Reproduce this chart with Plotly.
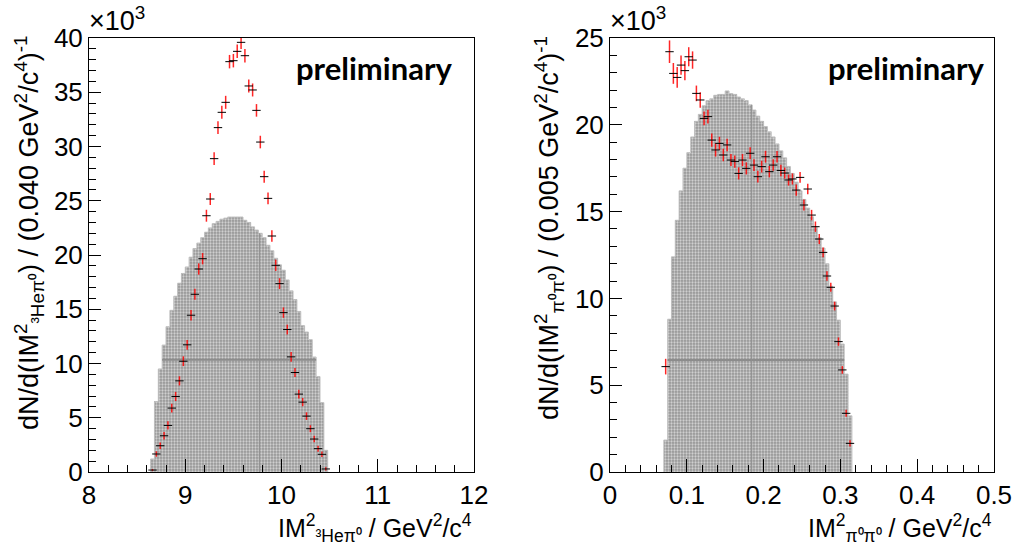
import plotly.graph_objects as go

# ---------------- data (values in units of 10^3) ----------------
# Left panel: IM^2(3He pi0), bin width 0.040
he_hist_left_edge = 8.64
he_hist_width = 0.04
he_hist = [1.2, 6.5, 9.5, 11.7, 13.4, 14.9, 16.2, 17.4, 18.3, 18.9,
           19.8, 20.6, 21.1, 21.6, 22.1, 22.5, 22.9, 23.1, 23.3, 23.4,
           23.5, 23.5, 23.5, 23.5, 23.2, 23.0, 22.6, 22.3, 22.0, 21.6,
           20.9, 20.4, 19.7, 19.1, 18.6, 17.7, 16.7, 15.9, 14.8, 13.5,
           12.9, 12.2, 10.6, 8.8, 6.4, 2.0]
he_x = [8.66, 8.70, 8.74, 8.78, 8.82, 8.86, 8.90, 8.94, 8.98, 9.02,
        9.06, 9.10, 9.14, 9.18, 9.22, 9.26, 9.30, 9.34, 9.38, 9.42,
        9.46, 9.50, 9.54, 9.58, 9.62, 9.66, 9.70, 9.74, 9.78, 9.82,
        9.86, 9.90, 9.94, 9.98, 10.02, 10.06, 10.10, 10.14, 10.18, 10.22,
        10.26, 10.30, 10.34, 10.38, 10.42, 10.46]
he_y = [0.18, 1.66, 2.42, 3.34, 4.29, 5.89, 6.96, 8.40, 10.21, 11.72,
        14.45, 16.38, 18.71, 19.66, 23.62, 25.16, 28.88, 31.74, 33.15, 34.07,
        37.82, 37.91, 38.77, 39.60, 38.37, 35.58, 35.21, 33.33, 30.41, 27.22,
        25.22, 21.75, 19.05, 17.36, 14.69, 13.13, 10.61, 9.17, 7.18, 6.44,
        5.15, 3.99, 3.04, 2.15, 1.63, 0.28]
he_err = [0.10, 0.25, 0.30, 0.35, 0.38, 0.40, 0.42, 0.42, 0.45, 0.45,
          0.48, 0.50, 0.52, 0.52, 0.55, 0.55, 0.58, 0.58, 0.60, 0.60,
          0.62, 0.62, 0.62, 0.62, 0.62, 0.60, 0.60, 0.58, 0.58, 0.55,
          0.55, 0.52, 0.52, 0.50, 0.48, 0.45, 0.45, 0.42, 0.40, 0.38,
          0.35, 0.32, 0.30, 0.28, 0.25, 0.15]
he_lines_h = [10.35]
he_lines_v = [9.77]

# Right panel: IM^2(pi0 pi0), bin width 0.005
pp_hist_left_edge = 0.070
pp_hist_width = 0.005
pp_hist = [1.84, 8.8, 12.4, 14.5, 16.2, 17.5, 18.4, 19.3, 20.2, 20.6,
           21.1, 21.4, 21.5, 21.7, 21.75, 21.75, 21.95, 21.8, 21.75, 21.6,
           21.5, 21.4, 21.15, 20.85, 20.5, 20.2, 19.9, 19.6, 19.3, 18.9,
           18.5, 18.1, 17.6, 17.2, 16.7, 16.2, 15.7, 15.2, 14.7, 14.1,
           13.5, 12.9, 12.0, 10.7, 9.8, 8.75, 7.37, 5.64, 3.24]
pp_x = [0.0725, 0.0775, 0.0825, 0.0875, 0.0925, 0.0975, 0.1025, 0.1075, 0.1125, 0.1175,
        0.1225, 0.1275, 0.1325, 0.1375, 0.1425, 0.1475, 0.1525, 0.1575, 0.1625, 0.1675,
        0.1725, 0.1775, 0.1825, 0.1875, 0.1925, 0.1975, 0.2025, 0.2075, 0.2125, 0.2175,
        0.2225, 0.2275, 0.2325, 0.2375, 0.2425, 0.2475, 0.2525, 0.2575, 0.2625, 0.2675,
        0.2725, 0.2775, 0.2825, 0.2875, 0.2925, 0.2975, 0.3025, 0.3075, 0.3125]
pp_y = [6.07, 24.21, 22.96, 22.73, 23.44, 23.12, 23.92, 23.73, 21.81, 21.43,
        20.37, 20.47, 19.12, 18.55, 18.93, 18.26, 18.84, 17.97, 17.88, 17.20,
        17.97, 17.49, 18.36, 17.68, 17.01, 17.59, 18.16, 17.30, 17.68, 18.16,
        17.37, 17.22, 16.82, 16.88, 16.24, 16.97, 15.38, 16.30, 14.80, 14.13,
        13.42, 12.65, 11.29, 10.64, 9.56, 7.51, 5.88, 3.38, 1.65]
pp_err = [0.45, 0.65, 0.60, 0.60, 0.55, 0.55, 0.55, 0.50, 0.45, 0.45,
          0.40, 0.40, 0.38, 0.38, 0.38, 0.36, 0.36, 0.35, 0.35, 0.35,
          0.35, 0.35, 0.35, 0.34, 0.34, 0.34, 0.34, 0.33, 0.33, 0.33,
          0.33, 0.32, 0.32, 0.32, 0.32, 0.31, 0.31, 0.30, 0.30, 0.30,
          0.29, 0.28, 0.27, 0.26, 0.25, 0.24, 0.22, 0.20, 0.18]
pp_lines_h = [6.45]
pp_lines_v = [0.1845]

# ---------------- style ----------------
W, H = 1016, 554
FONT = "Liberation Sans, Arial, sans-serif"
HIST_BG = "#969696"
HIST_FG = "#cfcfcf"
OUTLINE = "#c0c0c0"

def px_x(p):
    return p / W

def px_y(p):
    return 1 - p / H

fig = go.Figure()

def add_panel(xa, ya, left_edge, width, hist, xs, ys, errs, lines_h, lines_v):
    n = len(hist)
    edges = [left_edge + width * i for i in range(n + 1)]
    centers = [left_edge + width * (i + 0.5) for i in range(n)]
    fig.add_trace(go.Bar(
        x=centers, y=hist, width=[width] * n, xaxis=xa, yaxis=ya,
        marker=dict(color=HIST_BG, line=dict(width=0),
                    pattern=dict(shape=".", fgcolor=HIST_FG, bgcolor=HIST_BG,
                                 size=3, solidity=0.45)),
        showlegend=False, hoverinfo="skip"))
    ox = [edges[0]] + edges[:n] + [edges[n]]
    oy = [0] + list(hist) + [0]
    fig.add_trace(go.Scatter(x=ox, y=oy, mode="lines", line=dict(shape="hv", color=OUTLINE, width=1),
                             xaxis=xa, yaxis=ya, showlegend=False, hoverinfo="skip"))
    for lv in lines_h:
        idx = [i for i, v in enumerate(hist) if v >= lv]
        fig.add_trace(go.Scatter(x=[edges[idx[0]], edges[idx[-1] + 1]], y=[lv, lv], mode="lines",
                                 line=dict(color="#8c8c8c", width=2), xaxis=xa, yaxis=ya,
                                 showlegend=False, hoverinfo="skip"))
    for xv in lines_v:
        i = int((xv - left_edge) / width)
        fig.add_trace(go.Scatter(x=[xv, xv], y=[0, hist[i]], mode="lines",
                                 line=dict(color="#8f8f8f", width=1), xaxis=xa, yaxis=ya,
                                 showlegend=False, hoverinfo="skip"))
    fig.add_trace(go.Scatter(
        x=xs, y=ys, mode="markers", xaxis=xa, yaxis=ya,
        marker=dict(symbol="line-ew", size=6, color="black", line=dict(color="black", width=1)),
        error_y=dict(type="data", array=errs, visible=True, color="rgba(255,0,0,0.85)",
                     thickness=1.5, width=0),
        showlegend=False, hoverinfo="skip"))

add_panel("x", "y", he_hist_left_edge, he_hist_width, he_hist, he_x, he_y, he_err, he_lines_h, he_lines_v)
add_panel("x2", "y2", pp_hist_left_edge, pp_hist_width, pp_hist, pp_x, pp_y, pp_err, pp_lines_h, pp_lines_v)

ydom = [px_y(472), px_y(38)]

def axis(**kw):
    d = dict(showline=True, linecolor="black", linewidth=1, mirror=True, automargin=False,
             ticks="inside", tickcolor="black", showgrid=False, zeroline=False,
             tickfont=dict(family=FONT, size=26, color="black"))
    d.update(kw)
    return d

fig.update_layout(
    template="none",
    width=W, height=H, margin=dict(l=0, r=0, t=0, b=0, pad=0, autoexpand=False),
    paper_bgcolor="white", plot_bgcolor="white", bargap=0, barmode="overlay",
    xaxis=axis(domain=[px_x(89), px_x(474)], range=[8, 12], tickvals=[8, 9, 10, 11, 12],
               ticklen=13, anchor="y",
               minor=dict(ticks="inside", ticklen=7, tickcolor="black", dtick=0.2, tick0=8, showgrid=False)),
    yaxis=axis(domain=ydom, range=[0, 40], tickvals=[0, 5, 10, 15, 20, 25, 30, 35, 40],
               ticklen=12, anchor="x",
               minor=dict(ticks="inside", ticklen=7, tickcolor="black", dtick=1, tick0=0, showgrid=False)),
    xaxis2=axis(domain=[px_x(610), px_x(994)], range=[0, 0.5],
                tickvals=[0, 0.1, 0.2, 0.3, 0.4, 0.5], ticktext=["0", "0.1", "0.2", "0.3", "0.4", "0.5"],
                ticklen=13, anchor="y2",
                minor=dict(ticks="inside", ticklen=7, tickcolor="black", dtick=0.02, tick0=0, showgrid=False)),
    yaxis2=axis(domain=ydom, range=[0, 25], tickvals=[0, 5, 10, 15, 20, 25],
                ticklen=12, anchor="x2",
                minor=dict(ticks="inside", ticklen=7, tickcolor="black", dtick=1, tick0=0, showgrid=False)),
)

ann = []
tf = dict(family=FONT, size=25, color="black")
yf = dict(family=FONT, size=27, color="black")
for x0 in (87, 608):
    ann.append(dict(x=px_x(x0), y=px_y(38), xref="paper", yref="paper", xanchor="left", yanchor="bottom",
                    text="×10<sup>3</sup>", showarrow=False, font=dict(family=FONT, size=27, color="black")))
for cx in (374, 906):
    ann.append(dict(x=px_x(cx), y=px_y(68), xref="paper", yref="paper", xanchor="center", yanchor="middle",
                    text="<b>preliminary</b>", showarrow=False,
                    font=dict(family="Lato, Open Sans, sans-serif", size=31, color="black")))
ann.append(dict(x=px_x(474), y=px_y(548), xref="paper", yref="paper", xanchor="right", yanchor="bottom",
                text="IM<sup>2</sup><sub>³Heπ⁰</sub> / GeV<sup>2</sup>/c<sup>4</sup>", showarrow=False, font=tf))
ann.append(dict(x=px_x(994), y=px_y(548), xref="paper", yref="paper", xanchor="right", yanchor="bottom",
                text="IM<sup>2</sup><sub>π⁰π⁰</sub> / GeV<sup>2</sup>/c<sup>4</sup>", showarrow=False, font=tf))
ann.append(dict(x=px_x(29), y=px_y(34), xref="paper", yref="paper", xanchor="center", yanchor="top",
                textangle=-90,
                text="dN/d(IM<sup>2</sup><sub>³Heπ⁰</sub>) / (0.040 GeV<sup>2</sup>/c<sup>4</sup>)<sup>-1</sup>",
                showarrow=False, font=yf))
ann.append(dict(x=px_x(549), y=px_y(34), xref="paper", yref="paper", xanchor="center", yanchor="top",
                textangle=-90,
                text="dN/d(IM<sup>2</sup><sub>π⁰π⁰</sub>) / (0.005 GeV<sup>2</sup>/c<sup>4</sup>)<sup>-1</sup>",
                showarrow=False, font=yf))
fig.update_layout(annotations=ann)

fig.write_html("out.html", config={"displayModeBar": False},
               post_script="document.body.style.margin='0';document.body.style.overflow='hidden';"
                           "document.documentElement.style.overflow='hidden';")
